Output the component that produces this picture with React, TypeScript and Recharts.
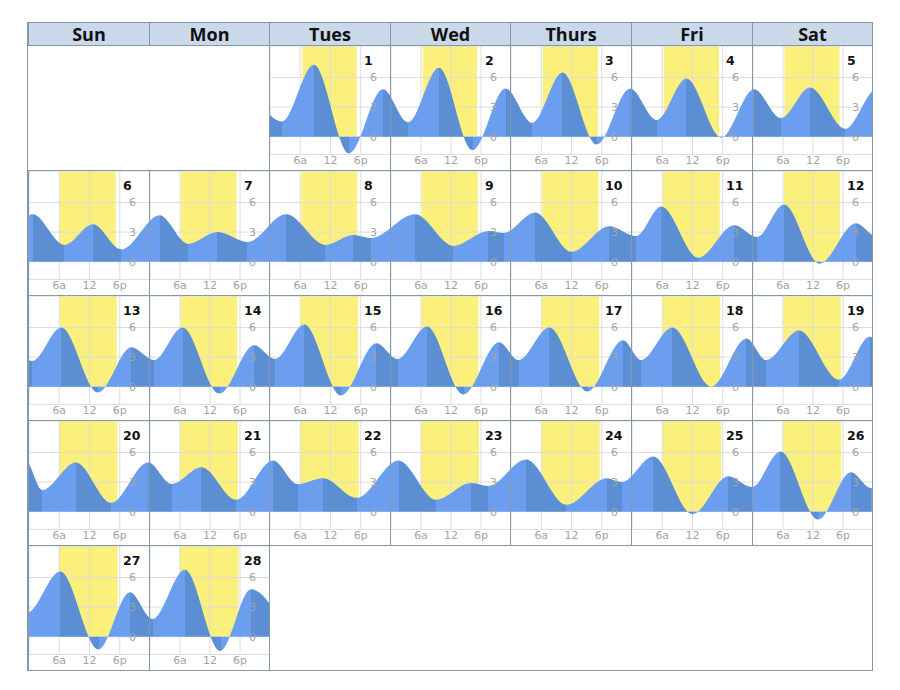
import React from 'react';
import { AreaChart, Area, XAxis, YAxis, CartesianGrid, ReferenceArea } from 'recharts';

// ---------- data ----------
const dayNames = ['Sun', 'Mon', 'Tues', 'Wed', 'Thurs', 'Fri', 'Sat'];
const firstWeekday = 2; // day 1 falls on Tuesday
const dayCount = 28;
const hourTicks = [6, 12, 18];
const hourLabels = ['6a', '12', '6p'];
const heightTicks = [0, 3, 6];
const heightLabels = ['0', '3', '6'];

// tide turning points: day of month, hour of day, height (ft)
const tideDay = [
  0,
  1, 1, 1, 1,
  2, 2, 2, 2,
  3, 3, 3, 3,
  4, 4, 4,
  5, 5, 5, 5,
  6, 6, 6, 6,
  7, 7, 7, 7,
  8, 8, 8, 8,
  9, 9, 9, 9,
  10, 10, 10,
  11, 11, 11, 11,
  12, 12, 12, 12,
  13, 13, 13, 13,
  14, 14, 14, 14,
  15, 15, 15, 15,
  16, 16, 16, 16,
  17, 17, 17, 17,
  18, 18, 18, 18,
  19, 19, 19, 19,
  20, 20, 20, 20,
  21, 21, 21,
  22, 22, 22, 22,
  23, 23, 23, 23,
  24, 24, 24, 24,
  25, 25, 25, 25,
  26, 26, 26, 26,
  27, 27, 27,
  28, 28, 28, 28,
  29,
];
const tideHour = [
  20.5,
  2.4, 8.7, 15.7, 22.4,
  3.4, 9.6, 16.3, 22.9,
  4.2, 10.2, 17.0, 23.6,
  4.9, 10.8, 17.7,
  0.2, 5.6, 11.4, 18.5,
  0.7, 7.0, 12.7, 18.3,
  1.9, 7.6, 13.5, 19.5,
  3.2, 11.0, 16.5, 20.0,
  4.8, 12.5, 19.5, 22.5,
  4.8, 12.0, 19.5,
  0.8, 5.8, 13.1, 20.3,
  0.8, 6.2, 13.3, 20.6,
  0.6, 6.4, 13.7, 20.3,
  0.8, 6.5, 13.9, 20.8,
  1.0, 6.8, 14.1, 21.1,
  1.3, 7.2, 14.5, 21.6,
  1.5, 7.6, 15.2, 22.2,
  1.8, 8.0, 15.7, 22.7,
  2.6, 9.2, 17.2, 23.4,
  2.6, 9.3, 16.3, 23.6,
  4.3, 10.3, 17.2,
  0.6, 5.5, 10.5, 17.2,
  1.5, 9.0, 16.0, 19.5,
  3.0, 11.0, 19.0, 22.0,
  4.2, 12.0, 19.1, 23.8,
  5.5, 13.0, 19.6, 23.6,
  6.2, 13.8, 20.0,
  0.5, 7.0, 14.1, 20.2,
  2.0,
];
const tideFeet = [
  4.6,
  1.55, 7.3, -1.7, 4.8,
  1.45, 7.0, -1.35, 4.9,
  1.4, 6.5, -0.8, 4.9,
  1.7, 5.9, -0.1,
  4.8, 1.9, 5.0, 0.8,
  4.8, 1.7, 3.8, 1.25,
  4.7, 1.8, 3.0, 2.0,
  4.8, 1.7, 2.7, 2.4,
  4.8, 1.6, 3.1, 2.9,
  5.0, 1.0, 3.6,
  2.6, 5.6, 0.4, 3.7,
  2.5, 5.8, -0.2, 3.9,
  2.6, 6.0, -0.6, 4.0,
  2.7, 6.0, -0.7, 4.2,
  2.8, 6.3, -0.9, 4.4,
  2.8, 6.1, -0.8, 4.5,
  2.7, 6.0, -0.5, 4.7,
  2.7, 6.0, 0.0, 4.9,
  2.7, 5.7, 0.7, 5.1,
  2.2, 5.0, 0.9, 5.0,
  2.8, 4.5, 1.2,
  5.2, 2.8, 3.4, 1.4,
  5.2, 1.2, 2.9, 2.6,
  5.3, 0.7, 3.4, 3.0,
  5.6, -0.25, 3.6, 2.5,
  6.1, -0.8, 4.0, 2.4,
  6.6, -1.3, 4.5,
  1.8, 6.8, -1.45, 4.8,
  1.8,
];

// daylight (hours of day) for days 1..28
const sunrise = [
  6.4, 6.35, 6.3, 6.3, 6.3, 6.1, 6.2,
  6.2, 6.2, 6.2, 6.15, 6.15, 6.15, 6.1,
  6.1, 6.1, 6.1, 6.05, 6.05, 6.05, 6.0,
  6.0, 6.0, 6.0, 6.05, 5.95, 5.9, 5.9,
];
const sunset = [
  17.2, 17.2, 17.25, 17.25, 17.3, 17.2, 17.3,
  17.3, 17.35, 17.35, 17.4, 17.4, 17.4, 17.45,
  17.45, 17.5, 17.5, 17.5, 17.55, 17.55, 17.55,
  17.6, 17.6, 17.6, 17.7, 17.65, 17.6, 17.7,
];

// ---------- styles ----------
const LIGHT = '#6b9eee';
const DARK = '#5b8ed3';
const YELLOW = '#fbf07b';
const BORDER = '#8397ad';
const GRID = '#dcdcdc';
const TICK = '#a3a3a3';

const GRID_LEFT = 20; // local coords (root is at 8,8)
const HEADER_TOP = 14;
const HEADER_H = 23;
const ROW_TOP = 37;
const ROW_H = 125;
const COL_W = 120.6;
const Y_DOMAIN: [number, number] = [-1.8, 9.2];

const tideData = tideDay.map((d, i) => ({ t: (d - 1) * 24 + tideHour[i], h: tideFeet[i] }));

const colLeft = (c: number) => Math.round(GRID_LEFT + c * COL_W);

function buildStops(start: number, end: number) {
  const stops: { offset: number; color: string }[] = [];
  for (let i = 0; i < tideData.length - 1; i++) {
    const a = tideData[i];
    const b = tideData[i + 1];
    if (b.t <= start || a.t >= end) continue;
    const color = b.h > a.h ? LIGHT : DARK;
    const o1 = (Math.max(a.t, start) - start) / (end - start);
    const o2 = (Math.min(b.t, end) - start) / (end - start);
    stops.push({ offset: o1, color });
    stops.push({ offset: o2, color });
  }
  return stops;
}

function DayCell({ day, left, top, width }: { day: number; left: number; top: number; width: number }) {
  const start = (day - 1) * 24;
  const end = start + 24;
  const cw = width - 1;
  const ch = ROW_H - 1;
  const gid = `tide-grad-${day}`;
  const stops = buildStops(start, end);
  const tickStyle = { fill: TICK, fontSize: 11, fontFamily: 'DejaVu Sans' };
  return (
    <div style={{ position: 'absolute', left, top, width, height: ROW_H }}>
      <div style={{ position: 'absolute', left: 1, top: 1 }}>
        <AreaChart width={cw} height={ch} data={tideData} margin={{ top: 0, right: 0, bottom: 0, left: 0 }}>
          <defs>
            <linearGradient id={gid} gradientUnits="userSpaceOnUse" x1={0} y1={0} x2={cw} y2={0}>
              {stops.map((s, i) => (
                <stop key={i} offset={s.offset} stopColor={s.color} />
              ))}
            </linearGradient>
          </defs>
          <ReferenceArea
            x1={start + sunrise[day - 1]}
            x2={start + sunset[day - 1]}
            y1={0}
            y2={Y_DOMAIN[1]}
            fill={YELLOW}
            fillOpacity={1}
            stroke="none"
            ifOverflow="hidden"
            zIndex={-150}
          />
          <CartesianGrid stroke={GRID} />
          <XAxis
            type="number"
            dataKey="t"
            domain={[start, end]}
            allowDataOverflow
            ticks={hourTicks.map((h) => start + h)}
            interval={0}
            tickFormatter={(v: number) => hourLabels[hourTicks.indexOf(Math.round(v - start))]}
            height={15.6}
            tickLine={false}
            axisLine={false}
            tickSize={0}
            tickMargin={2}
            tick={tickStyle}
          />
          <YAxis
            type="number"
            domain={Y_DOMAIN}
            ticks={heightTicks}
            interval={0}
            tickFormatter={(v: number) => heightLabels[heightTicks.indexOf(v)]}
            orientation="right"
            mirror
            width={20}
            tickLine={false}
            axisLine={false}
            tickSize={0}
            tickMargin={14}
            tick={tickStyle}
          />
          <Area
            type="monotone"
            dataKey="h"
            stroke="none"
            fill={`url(#${gid})`}
            fillOpacity={1}
            dot={false}
            activeDot={false}
            isAnimationActive={false}
          />
        </AreaChart>
      </div>
      <div
        style={{
          position: 'absolute',
          left: 95,
          top: 8,
          fontFamily: 'DejaVu Sans',
          fontWeight: 'bold',
          fontSize: 12.5,
          lineHeight: '15px',
          color: '#111',
        }}
      >
        {day}
      </div>
      <div
        style={{
          position: 'absolute',
          left: 0,
          top: 0,
          width,
          height: ROW_H + 1,
          boxSizing: 'border-box',
          border: `1px solid ${BORDER}`,
          pointerEvents: 'none',
        }}
      />
    </div>
  );
}

export default function App() {
  const totalW = colLeft(7) - GRID_LEFT;
  const rows = Math.ceil((firstWeekday + dayCount) / 7);
  const cells = [];
  for (let d = 1; d <= dayCount; d++) {
    const idx = firstWeekday + d - 1;
    const c = idx % 7;
    const r = Math.floor(idx / 7);
    cells.push(
      <DayCell key={d} day={d} left={colLeft(c)} top={ROW_TOP + r * ROW_H} width={colLeft(c + 1) - colLeft(c) + 1} />
    );
  }
  return (
    <div style={{ position: 'relative', width: 884, height: 674 }}>
      {/* header */}
      {dayNames.map((n, c) => (
        <div
          key={n}
          style={{
            position: 'absolute',
            left: colLeft(c),
            top: HEADER_TOP,
            width: colLeft(c + 1) - colLeft(c) + 1,
            height: HEADER_H + 1,
            boxSizing: 'border-box',
            border: `1px solid ${BORDER}`,
            background: '#c9d9ea',
            textAlign: 'center',
            fontFamily: '"Open Sans"',
            fontWeight: 700,
            fontSize: 18,
            lineHeight: `${HEADER_H - 1}px`,
            color: '#111',
          }}
        >
          {n}
        </div>
      ))}
      {cells}
      {/* outer frame */}
      <div
        style={{
          position: 'absolute',
          left: GRID_LEFT - 1,
          top: HEADER_TOP,
          width: totalW + 2,
          height: ROW_TOP - HEADER_TOP + rows * ROW_H + 1,
          boxSizing: 'border-box',
          border: `1px solid ${BORDER}`,
          pointerEvents: 'none',
        }}
      />
    </div>
  );
}
